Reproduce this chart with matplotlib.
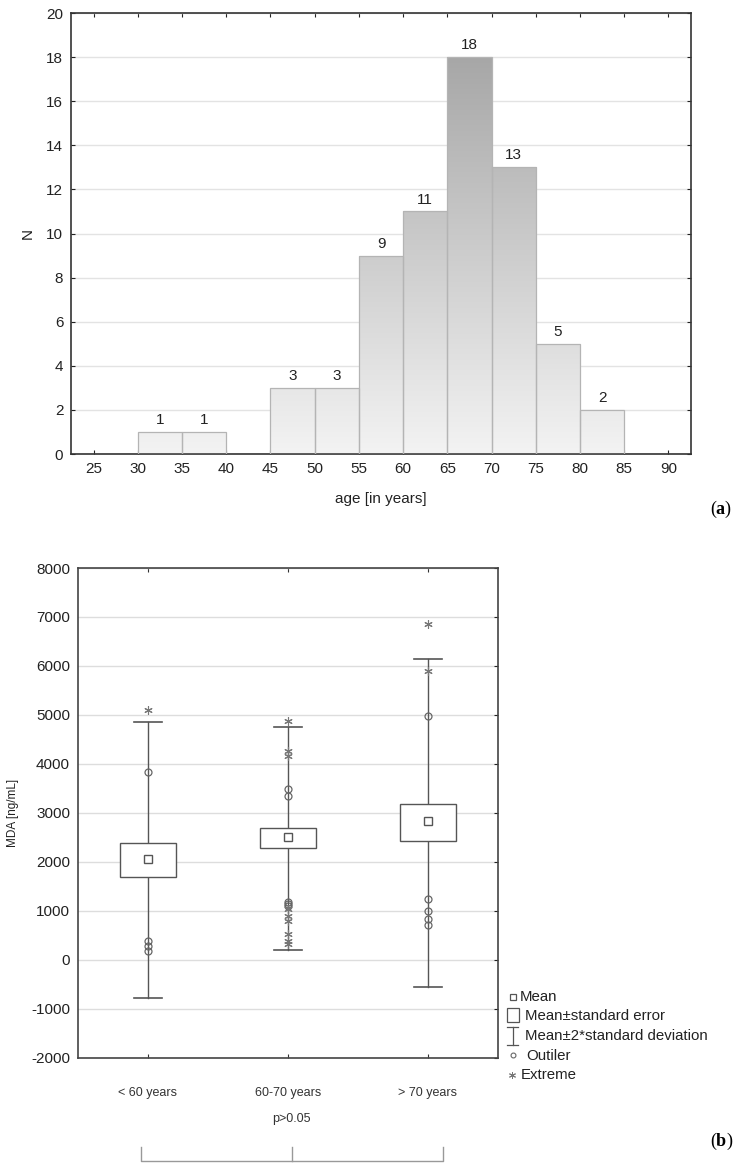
import numpy as np
import matplotlib
matplotlib.use("Agg")
import matplotlib.pyplot as plt
from matplotlib.colors import LinearSegmentedColormap
from matplotlib.patches import Rectangle

plt.rcParams['font.family'] = ['Liberation Sans', 'DejaVu Sans']
plt.rcParams['mathtext.fontset'] = 'custom'
plt.rcParams['mathtext.rm'] = 'Liberation Serif'
plt.rcParams['mathtext.bf'] = 'Liberation Serif:bold'
plt.rcParams['axes.unicode_minus'] = False

# ---------------- data (a) ----------------
bin_starts = [30, 35, 40, 45, 50, 55, 60, 65, 70, 75, 80]
counts = [1, 1, 0, 3, 3, 9, 11, 18, 13, 5, 2]
x_ticks_a = [25, 30, 35, 40, 45, 50, 55, 60, 65, 70, 75, 80, 85, 90]

# ---------------- data (b) ----------------
groups = ['< 60 years', '60-70 years', '> 70 years']
means = [2050, 2505, 2825]
se_low = [1680, 2272, 2422]
se_high = [2381, 2694, 3170]
sd_low = [-790, 204, -551]
sd_high = [4857, 4762, 6150]
outliers = [
    [3840, 370, 270, 170],
    [3476, 3333, 1184, 1136, 1088],
    [4986, 1238, 1000, 830, 714],
]
extremes = [
    [5090],
    [4878, 4265, 4163, 1030, 900, 780, 524, 388, 320],
    [6864, 5898],
]

W, H = 739, 1165
fig = plt.figure(figsize=(W / 100, H / 100), dpi=100)

def frac(l, t, r, b):
    return [l / W, 1 - b / H, (r - l) / W, (b - t) / H]

# ================= (a) histogram =================
ax1 = fig.add_axes(frac(71, 13, 691, 454))
ax1.set_xticks(x_ticks_a)
ax1.set_yticks(range(0, 21, 2))
ax1.grid(axis='y', color='#e3e3e3', linewidth=1.0, zorder=0)
ax1.set_axisbelow(True)
cmap = LinearSegmentedColormap.from_list('g', ['#f3f3f3', '#a7a7a7'])
grad = np.linspace(0, 1, 256).reshape(-1, 1)
for xs, c in zip(bin_starts, counts):
    if c == 0:
        continue
    bars = ax1.bar(xs, c, width=5, align='edge', facecolor='none',
                   edgecolor='#b4b4b4', linewidth=0.9, zorder=3)
    patch = bars.patches[0]
    im = ax1.imshow(grad, extent=[xs, xs + 5, 0, 18], origin='lower',
                    cmap=cmap, aspect='auto', zorder=2, vmin=0, vmax=1,
                    interpolation='bilinear')
    im.set_clip_path(patch)
    ax1.text(xs + 2.5, c + 0.22, str(c), ha='center', va='bottom',
             fontsize=11, color='#222222')
ax1.set_xlim(22.45, 92.55)
ax1.set_ylim(0, 20)
ax1.tick_params(direction='in', top=True, right=True, length=3,
                labelsize=11, colors='#222222', pad=5.5)
for s in ax1.spines.values():
    s.set_color('#333333')
    s.set_linewidth(1.2)
ax1.set_xlabel('age [in years]', fontsize=11, color='#222222')
ax1.xaxis.set_label_coords(0.5, (454 - 492) / 441)
ax1.set_ylabel('N', fontsize=11, color='#222222')
ax1.yaxis.set_label_coords((35 - 71) / 620, 0.5)

# ================= (b) box plot =================
ax2 = fig.add_axes(frac(77.7, 568, 498, 1057.5))
ax2.set_xticks(range(len(groups)))
ax2.set_xticklabels(groups)
ax2.set_yticks(range(-2000, 8001, 1000))
ax2.grid(axis='y', color='#dddddd', linewidth=1.0, zorder=0)
ax2.set_axisbelow(True)
lc = '#555555'
bw = 0.40
cw = 0.20
for i in range(len(groups)):
    ax2.plot([i, i], [sd_low[i], se_low[i]], color=lc, lw=1.0, zorder=2)
    ax2.plot([i, i], [se_high[i], sd_high[i]], color=lc, lw=1.0, zorder=2)
    ax2.plot([i - cw / 2, i + cw / 2], [sd_low[i]] * 2, color=lc, lw=1.2, zorder=2)
    ax2.plot([i - cw / 2, i + cw / 2], [sd_high[i]] * 2, color=lc, lw=1.2, zorder=2)
    ax2.add_patch(Rectangle((i - bw / 2, se_low[i]), bw, se_high[i] - se_low[i],
                            facecolor='white', edgecolor=lc, lw=1.0, zorder=3))
    ax2.plot([i], [means[i]], marker='s', ms=5.5, mfc='white', mec=lc, mew=1.0,
             zorder=4)
    ax2.plot([i] * len(outliers[i]), outliers[i], ls='none', marker='o', ms=5,
             mfc='none', mec='#666666', mew=0.9, zorder=4)
    ax2.plot([i] * len(extremes[i]), extremes[i], ls='none', marker=(6, 2, 0),
             ms=6, mec='#777777', mew=0.8, zorder=4)
ax2.set_xlim(-0.5, 2.5)
ax2.set_ylim(-2000, 8000)
ax2.tick_params(axis='y', direction='in', left=False, right=True, length=3,
                labelsize=11, colors='#222222', pad=5.5)
ax2.tick_params(axis='x', direction='in', top=True, bottom=True, length=3,
                labelsize=9, colors='#333333', pad=21.5)
for s in ax2.spines.values():
    s.set_color('#444444')
    s.set_linewidth(1.2)
ax2.set_ylabel('MDA [ng/mL]', fontsize=8.5, color='#222222')
ax2.yaxis.set_label_coords((19 - 77.7) / 420.3, 0.5)

# ================= overlay: legend, bracket, panel labels =================
ov = fig.add_axes([0, 0, 1, 1])
ov.set_xlim(0, W)
ov.set_ylim(H, 0)
ov.axis('off')
ov.patch.set_alpha(0)
fs_leg = 10.8
ov.add_patch(Rectangle((509.5, 994), 6, 6, fill=False, ec='#555555', lw=0.9))
ov.text(520, 997, 'Mean', va='center', fontsize=fs_leg, color='#222222')
ov.add_patch(Rectangle((506.5, 1008), 12, 14, fill=False, ec='#555555', lw=0.9))
ov.text(525, 1015.5, 'Mean±standard error', va='center', fontsize=fs_leg, color='#222222')
ov.plot([512.5, 512.5], [1027, 1045], color='#555555', lw=0.9)
ov.plot([507, 518], [1027, 1027], color='#555555', lw=0.9)
ov.plot([507, 518], [1045, 1045], color='#555555', lw=0.9)
ov.text(525, 1035.5, 'Mean±2*standard deviation', va='center', fontsize=fs_leg, color='#222222')
ov.plot([512.5], [1055], marker='o', ms=3.5, mfc='none', mec='#666666', mew=0.8)
ov.text(526, 1055.5, 'Outiler', va='center', fontsize=fs_leg, color='#222222')
ov.plot([512], [1074.5], marker=(6, 2, 0), ms=5, mec='#777777', mew=0.7)
ov.text(520.5, 1075, 'Extreme', va='center', fontsize=fs_leg, color='#222222')
bc = '#999999'
ov.plot([140.5, 140.5, 442.5, 442.5], [1147, 1161, 1161, 1147], color=bc, lw=1.0)
ov.plot([291.5, 291.5], [1161, 1147], color=bc, lw=1.0)
ov.text(291.5, 1119, 'p>0.05', ha='center', va='center', fontsize=9, color='#333333')
ov.text(721, 509, r'$\mathrm{(}\mathbf{a}\mathrm{)}$', ha='center', va='center',
        fontsize=13, color='black')
ov.text(722, 1141, r'$\mathrm{(}\mathbf{b}\mathrm{)}$', ha='center', va='center',
        fontsize=13, color='black')

fig.savefig('out.png', dpi=100)
